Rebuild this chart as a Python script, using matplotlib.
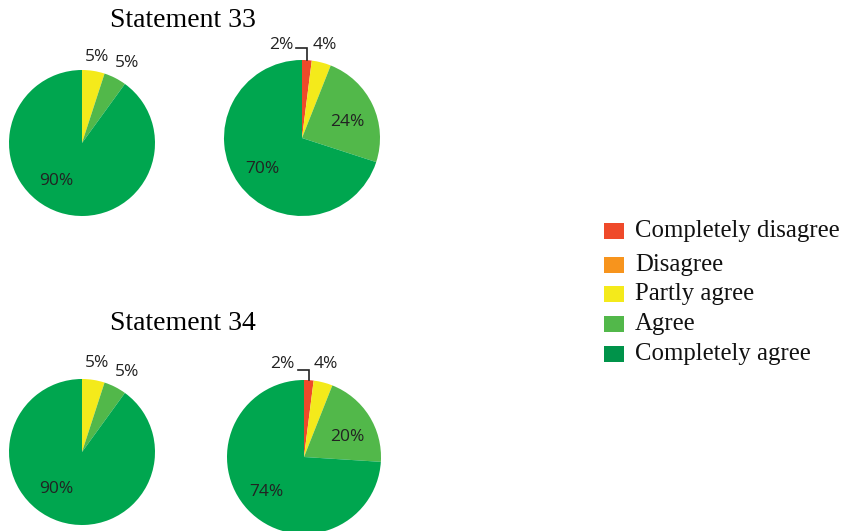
import numpy as np
import matplotlib.pyplot as plt
from matplotlib.patches import Rectangle

W, H = 845, 531

categories = ["Completely disagree", "Disagree", "Partly agree", "Agree", "Completely agree"]
colors = ["#EF4A2A", "#F7941D", "#F4EA1B", "#52B84A", "#00A64F"]
legend_colors = ["#EF4A2A", "#F7941D", "#F4EA1B", "#52B84A", "#00934A"]

titles = ["Statement 33", "Statement 34"]

# shares per statement, left and right pie (order follows categories)
s33_left = [0, 0, 5, 5, 90]
s33_right = [2, 0, 4, 24, 70]
s34_left = [0, 0, 5, 5, 90]
s34_right = [2, 0, 4, 20, 74]

fig = plt.figure(figsize=(W / 100, H / 100), dpi=100)
ax = fig.add_axes([0, 0, 1, 1])
ax.set_xlim(0, W)
ax.set_ylim(0, H)
ax.set_aspect("equal")
ax.axis("off")

serif = ["Liberation Serif", "DejaVu Serif"]
sans = ["Open Sans", "DejaVu Sans"]


def px(x, y):
    return x, H - y


def draw_pie(values, cx, cy, r, labels):
    vals = [v for v in values if v > 0]
    cols = [c for v, c in zip(values, colors) if v > 0]
    ax.pie(vals, colors=cols, startangle=90, counterclock=False,
           center=px(cx, cy), radius=r, frame=True,
           wedgeprops=dict(linewidth=0))
    for v, (lx, ly) in zip(vals, labels):
        ax.text(*px(lx, ly), f"{v}%", ha="center", va="center",
                fontsize=12.5, family=sans, color="#222222")
    return vals


def leader(value, cx, cy, r, lx, ly):
    # bent line from a small slice's label down to its arc
    ang = np.deg2rad(90 - value / 100 * 360 / 2)
    ex, ey = cx + r * np.cos(ang), cy - r * np.sin(ang)
    ax.plot([lx, ex, ex], [H - ly, H - ly, H - ey], color="#222222", lw=1.2,
            solid_joinstyle="miter")


# Statement 33
ax.text(*px(183, 20), titles[0], ha="center", va="center", fontsize=20, family=serif)
draw_pie(s33_left, 82, 143, 73, [(97, 57), (127, 63), (56, 181)])
draw_pie(s33_right, 302, 138, 78, [(281, 45), (325, 45), (347, 122), (262, 169)])
leader(s33_right[0], 302, 138, 78, 296, 48)

# Statement 34
ax.text(*px(183, 323), titles[1], ha="center", va="center", fontsize=20, family=serif)
draw_pie(s34_left, 82, 452, 73, [(97, 363), (127, 372), (56, 489)])
draw_pie(s34_right, 304, 457, 77, [(282, 364), (326, 364), (347, 437), (266, 492)])
leader(s34_right[0], 304, 457, 77, 298, 370)

ax.set_xlim(0, W)
ax.set_ylim(0, H)

# legend
rows = [231, 265, 294, 324, 354]
for name, col, y in zip(categories, legend_colors, rows):
    ax.add_patch(Rectangle((604, H - y - 8), 20, 16, color=col, lw=0))
    ax.text(635, H - y, name, ha="left", va="center", fontsize=17.8, family=serif,
            color="#111111")

fig.savefig("out.png", dpi=100)
